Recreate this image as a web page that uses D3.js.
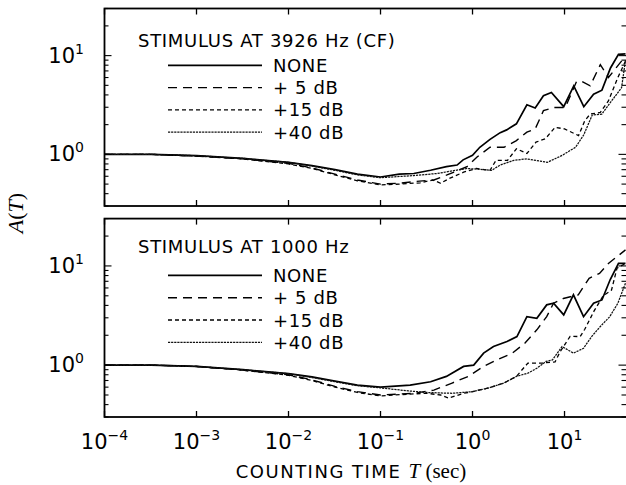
<!DOCTYPE html>
<html><head><meta charset="utf-8">
<script src="https://cdn.jsdelivr.net/npm/d3@7"></script>
<style>body{margin:0;background:#fff}</style>
</head><body>
<svg id="c" width="626" height="485"></svg>
<script>
// ---------- data ----------
const seriesNames = ["NONE", "+ 5 dB", "+15 dB", "+40 dB"];
const panelTitles = ["STIMULUS AT 3926 Hz (CF)", "STIMULUS AT 1000 Hz"];
const xTickExps = [-4, -3, -2, -1, 0, 1];
const yTickExps = [0, 1];

// Top panel: stimulus at 3926 Hz (CF)
const cfNoneT = [1e-4,3.2e-4,1e-3,3.2e-3,0.01,0.018,0.032,0.056,0.1,0.16,0.23,0.35,0.52,0.68,0.79,1.0,1.2,1.55,2.0,2.35,3.0,3.9,4.8,5.9,7.2,9.8,12.6,16.2,20.7,25.5,31.6,38.6,46];
const cfNoneA = [1.0,1.0,0.97,0.91,0.83,0.77,0.70,0.63,0.59,0.63,0.64,0.69,0.75,0.78,0.88,0.98,1.18,1.42,1.66,1.77,2.04,3.18,2.95,3.92,4.23,3.04,4.94,3.04,4.07,4.47,7.5,10.3,10.4];
const cf5T = [1e-4,3.2e-4,1e-3,3.2e-3,0.01,0.018,0.032,0.056,0.1,0.16,0.23,0.38,0.52,0.87,1.12,1.55,2.2,3.0,3.9,4.8,5.9,7.6,10.2,13.5,15.5,19,24.5,30,46];
const cf5A = [1.0,1.0,0.96,0.90,0.81,0.73,0.63,0.55,0.50,0.51,0.53,0.55,0.615,0.75,0.94,1.18,1.18,1.38,1.68,1.81,2.77,2.98,2.98,5.46,5.46,4.94,8.1,6.0,9.9];
const cf15T = [1e-4,3.2e-4,1e-3,3.2e-3,0.01,0.018,0.032,0.056,0.1,0.16,0.27,0.37,0.45,0.56,0.8,1.1,1.55,1.8,2.4,3.0,3.9,4.9,6.2,7.9,10,14.2,16.6,19,24.5,30,38,46];
const cf15A = [1.0,1.0,0.96,0.90,0.80,0.72,0.62,0.54,0.49,0.50,0.515,0.55,0.51,0.57,0.66,0.72,0.69,0.87,0.87,1.14,1.02,1.33,1.44,1.88,1.81,1.55,2.19,2.56,2.66,3.48,6.0,8.8];
const cf40T = [1e-4,3.2e-4,1e-3,3.2e-3,0.01,0.018,0.032,0.056,0.1,0.23,0.41,0.87,1.62,2.0,2.8,3.9,6.5,9.5,11.6,13.2,16.2,20,25.5,32.5,41.7,46];
const cf40A = [1.0,1.0,0.97,0.91,0.83,0.76,0.69,0.62,0.58,0.61,0.64,0.72,0.69,0.78,0.87,0.90,0.83,0.98,1.10,1.18,1.58,2.5,2.56,3.48,4.74,9.0];

// Bottom panel: stimulus at 1000 Hz
const lfNoneT = [1e-4,3.2e-4,1e-3,3.2e-3,0.01,0.018,0.032,0.056,0.1,0.21,0.35,0.52,0.8,1.03,1.32,1.69,2.37,3.04,3.9,5.0,6.4,7.6,9.8,12.5,16.1,20.7,25.5,31.4,38.6,46];
const lfNoneA = [1.0,1.0,0.97,0.90,0.82,0.76,0.69,0.63,0.60,0.63,0.68,0.77,0.97,1.0,1.32,1.54,1.73,1.94,3.08,2.97,4.05,4.21,3.21,5.11,3.08,4.21,4.54,7.3,10.6,10.6];
const lf5T = [1e-4,3.2e-4,1e-3,3.2e-3,0.01,0.018,0.032,0.056,0.1,0.23,0.38,0.6,0.9,1.32,1.85,2.7,3.7,5.0,6.4,7.6,9.7,14.1,18.5,24,30,46];
const lf5A = [1.0,1.0,0.97,0.89,0.80,0.71,0.61,0.54,0.50,0.52,0.56,0.66,0.77,0.97,1.13,1.32,1.66,2.27,3.08,4.21,4.7,5.11,7.5,8.4,10.6,14.5];
const lf15T = [1e-4,3.2e-4,1e-3,3.2e-3,0.01,0.018,0.032,0.056,0.1,0.2,0.32,0.45,0.55,0.8,1.0,1.5,2.2,3.0,4.0,5.8,7.9,8.9,11.5,14.8,16.6,20.9,26.3,32.4,37.2,46];
const lf15A = [1.0,1.0,0.97,0.89,0.79,0.70,0.60,0.53,0.49,0.51,0.52,0.50,0.465,0.52,0.54,0.59,0.66,0.77,1.05,1.05,1.08,1.35,1.95,1.94,2.3,3.5,5.0,5.7,9.5,10.6];
const lf40T = [1e-4,3.2e-4,1e-3,3.2e-3,0.01,0.018,0.032,0.056,0.1,0.2,0.32,0.6,1.0,1.5,2.2,3.0,4.0,5.0,6.3,7.4,9.4,12.5,16.1,19.7,24.5,31,38,46];
const lf40A = [1.0,1.0,0.97,0.90,0.82,0.75,0.68,0.62,0.59,0.55,0.53,0.52,0.54,0.59,0.66,0.77,0.83,0.93,1.09,1.13,1.54,1.32,1.48,1.94,2.45,3.08,4.21,6.7];

const panels = [
  { title: panelTitles[0], series: [[cfNoneT, cfNoneA], [cf5T, cf5A], [cf15T, cf15A], [cf40T, cf40A]] },
  { title: panelTitles[1], series: [[lfNoneT, lfNoneA], [lf5T, lf5A], [lf15T, lf15A], [lf40T, lf40A]] }
];

// ---------- layout / styles ----------
const L = 104.5, R = 625.5, frameR = 627.5;
const panelBox = [{ top: 8.5, bottom: 206 }, { top: 218.6, bottom: 417 }];
const styles = [
  { dash: null, w: 1.7, c: "#000" },
  { dash: "9,6", w: 1.4, c: "#000" },
  { dash: "4,3", w: 1.3, c: "#000" },
  { dash: "2.2,0.9", w: 1.25, c: "#111" }
];
const sans = "DejaVu Sans, sans-serif";
const serif = "Liberation Serif, Times New Roman, serif";

const svg = d3.select("#c");
const x = d3.scaleLog().domain([1e-4, 46]).range([L, R]);

function supLabel(sel, exp, big, small, shift) {
  sel.append("tspan").text("10").attr("font-size", big);
  sel.append("tspan").text(exp < 0 ? "\u2212" + (-exp) : String(exp))
    .attr("font-size", small).attr("dy", -shift);
}

panels.forEach((p, pi) => {
  const box = panelBox[pi];
  const y = d3.scaleLog().domain([0.3, 30]).range([box.bottom, box.top]);
  const g = svg.append("g");
  const clipId = "clip" + pi;
  svg.append("clipPath").attr("id", clipId).append("rect")
    .attr("x", L).attr("y", box.top).attr("width", frameR - L).attr("height", box.bottom - box.top);

  // curves
  const line = d3.line().x(d => x(d[0])).y(d => y(d[1]));
  p.series.forEach((s, si) => {
    const pts = s[0].map((t, i) => [t, s[1][i]]);
    g.append("path").attr("d", line(pts)).attr("fill", "none")
      .attr("stroke", styles[si].c).attr("stroke-width", styles[si].w)
      .attr("stroke-dasharray", styles[si].dash).attr("clip-path", `url(#${clipId})`);
  });

  // frame
  g.append("rect").attr("x", L).attr("y", box.top).attr("width", frameR - L)
    .attr("height", box.bottom - box.top).attr("fill", "none").attr("stroke", "#000").attr("stroke-width", 1.8);

  // x ticks (inward, top and bottom)
  xTickExps.forEach(e => {
    const xx = x(Math.pow(10, e));
    g.append("line").attr("x1", xx).attr("x2", xx).attr("y1", box.bottom).attr("y2", box.bottom - 6)
      .attr("stroke", "#000").attr("stroke-width", 1.3);
    g.append("line").attr("x1", xx).attr("x2", xx).attr("y1", box.top).attr("y2", box.top + 6)
      .attr("stroke", "#000").attr("stroke-width", 1.3);
  });

  // y ticks (major + minor) left and right
  y.ticks().forEach(v => {
    const major = Math.abs(Math.log10(v) - Math.round(Math.log10(v))) < 1e-9;
    const len = major ? 7 : 4;
    const yy = y(v);
    g.append("line").attr("x1", L).attr("x2", L + len).attr("y1", yy).attr("y2", yy)
      .attr("stroke", "#000").attr("stroke-width", 1.1);
    g.append("line").attr("x1", frameR).attr("x2", frameR - len - 2).attr("y1", yy).attr("y2", yy)
      .attr("stroke", "#000").attr("stroke-width", 1.1);
  });

  // y tick labels
  yTickExps.forEach(e => {
    const t = g.append("text").attr("x", 84).attr("y", y(Math.pow(10, e)) + 7)
      .attr("text-anchor", "end").attr("font-family", sans).attr("fill", "#000");
    supLabel(t, e, 21, 14, 9);
  });

  // legend
  g.append("text").attr("x", 138).attr("y", box.top + (pi === 0 ? 38 : 34.5))
    .attr("font-family", sans).attr("font-size", 18).attr("letter-spacing", 0.7)
    .text(p.title);
  seriesNames.forEach((n, si) => {
    const ly = box.top + 56.8 + si * 22.3;
    g.append("line").attr("x1", 168).attr("x2", 262).attr("y1", ly).attr("y2", ly)
      .attr("stroke", styles[si].c).attr("stroke-width", styles[si].w)
      .attr("stroke-dasharray", styles[si].dash);
    g.append("text").attr("x", 273).attr("y", ly + 6.5).attr("font-family", sans)
      .attr("font-size", 18).attr("letter-spacing", 0.6).attr("xml:space", "preserve").text(n);
  });

  // x tick labels on bottom panel
  if (pi === 1) {
    xTickExps.forEach(e => {
      const t = svg.append("text").attr("x", x(Math.pow(10, e))).attr("y", box.bottom + 32)
        .attr("text-anchor", "middle").attr("font-family", sans).attr("fill", "#000");
      supLabel(t, e, 21, 14, 9);
    });
  }
});

// axis titles
const xt = svg.append("text").attr("x", 351).attr("y", 478).attr("text-anchor", "middle");
xt.append("tspan").attr("font-family", sans).attr("font-size", 18).attr("letter-spacing", 1.5).text("COUNTING TIME ");
xt.append("tspan").attr("font-family", serif).attr("font-style", "italic").attr("font-size", 21).text("T");
xt.append("tspan").attr("font-family", serif).attr("font-size", 21).text(" (sec)");

const yt = svg.append("text").attr("transform", "translate(23,213) rotate(-90)").attr("text-anchor", "middle");
yt.append("tspan").attr("font-family", serif).attr("font-style", "italic").attr("font-size", 22).text("A");
yt.append("tspan").attr("font-family", serif).attr("font-size", 22).text("(");
yt.append("tspan").attr("font-family", serif).attr("font-style", "italic").attr("font-size", 22).text("T");
yt.append("tspan").attr("font-family", serif).attr("font-size", 22).text(")");
</script>
</body></html>
